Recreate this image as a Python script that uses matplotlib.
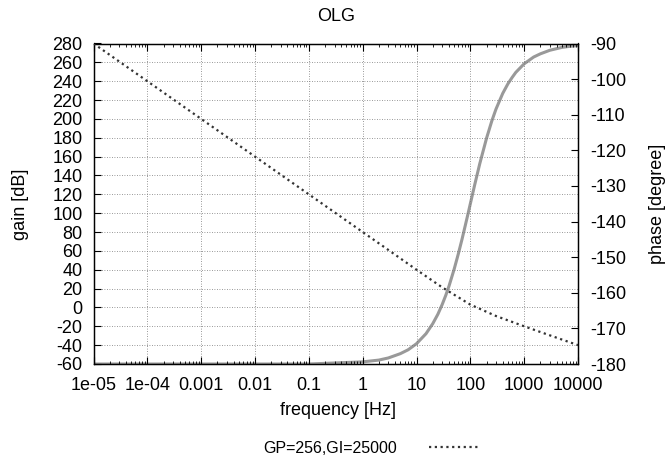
import matplotlib
matplotlib.use("Agg")
import matplotlib.pyplot as plt
from matplotlib.ticker import NullFormatter, LogLocator

plt.rcParams['font.family'] = ['Liberation Sans', 'DejaVu Sans']
plt.rcParams['font.size'] = 13
plt.rcParams['axes.unicode_minus'] = False

# data
freq_gain = [1e-5, 1e-4, 1e-3, 1e-2, 0.1, 1, 3, 10, 30, 100, 300, 1000, 3000, 10000]
gain_db = [280, 240, 200, 160, 120, 80, 61, 40, 21.3, 3.0, -9.1, -20, -29.6, -40]

freq_phase = [1e-5, 0.1, 1, 2, 3, 5, 7, 10, 15, 20, 25, 30, 35, 40, 50, 60, 70, 80,
              90, 100, 120, 150, 200, 250, 300, 400, 500, 600, 700, 1000, 1500,
              2000, 3000, 5000, 7000, 10000]
phase_deg = [-180, -180, -179.4, -178.9, -178.3, -177.1, -176.0, -174.3, -171.5,
             -168.7, -166.0, -163.3, -160.7, -158.2, -153.4, -149.0, -145.0, -141.3,
             -138.0, -135, -129.8, -123.7, -116.6, -111.8, -108.4, -104.0, -101.3,
             -99.5, -98.1, -95.7, -93.8, -92.9, -91.9, -91.1, -90.8, -90.6]

xtick_vals = [1e-5, 1e-4, 1e-3, 1e-2, 0.1, 1, 10, 100, 1000, 10000]
xtick_labels = ["1e-05", "1e-04", "0.001", "0.01", "0.1", "1", "10", "100", "1000", "10000"]
gain_ticks = list(range(-60, 281, 20))
phase_ticks = list(range(-180, -89, 10))

W, H = 666, 461
fig = plt.figure(figsize=(W/100, H/100), dpi=100)
ax = fig.add_axes([93.5/W, 1-364/H, (578-93.5)/W, (364-43.5)/H])
ax2 = ax.twinx()

ax.set_xscale('log')
ax.set_xlim(1e-5, 1e4)
ax.set_ylim(-60, 280)
ax2.set_ylim(-180, -90)

ax.set_xticks(xtick_vals)
ax.set_xticklabels(xtick_labels)
ax.xaxis.set_minor_locator(LogLocator(base=10, subs=range(2, 10), numticks=100))
ax.xaxis.set_minor_formatter(NullFormatter())
ax.set_yticks(gain_ticks)
ax2.set_yticks(phase_ticks)

ax.grid(True, which='major', color='#777777', linestyle=(0, (1, 2)), linewidth=0.6)
ax.set_axisbelow(True)

ax.tick_params(axis='x', which='major', direction='in', length=5, top=True, pad=9.5)
ax.tick_params(axis='x', which='minor', direction='in', length=2.5, top=True)
ax.tick_params(axis='y', direction='in', length=5, right=False, pad=8)
ax2.tick_params(axis='y', direction='in', length=5, pad=9)

ax2.plot(freq_phase, phase_deg, color='#999999', linewidth=2.2, zorder=2)
ax.plot(freq_gain, gain_db, color='#333333', linewidth=1.6,
        linestyle=(0, (1, 1.6)), label='GP=256,GI=25000', zorder=3)
ax.set_zorder(ax2.get_zorder() + 1)
ax.patch.set_visible(False)

for a in (ax, ax2):
    for s in a.spines.values():
        s.set_linewidth(0.9)

fig.text(336/W, 1-21/H, 'OLG', ha='center', va='baseline')
fig.text(338/W, 1-415/H, 'frequency [Hz]', ha='center', va='baseline')
fig.text(21/W, 1-204/H, 'gain [dB]', ha='center', va='center', rotation=90)
fig.text(657.5/W, 1-204/H, 'phase [degree]', ha='center', va='center', rotation=90)

fig.legend(*ax.get_legend_handles_labels(), loc='center', bbox_to_anchor=(371.5/W, 1-448/H),
           frameon=False, markerfirst=False, handlelength=3.2, handletextpad=2.0,
           borderpad=0, borderaxespad=0, fontsize=11.5)

fig.savefig('out.png', dpi=100)
